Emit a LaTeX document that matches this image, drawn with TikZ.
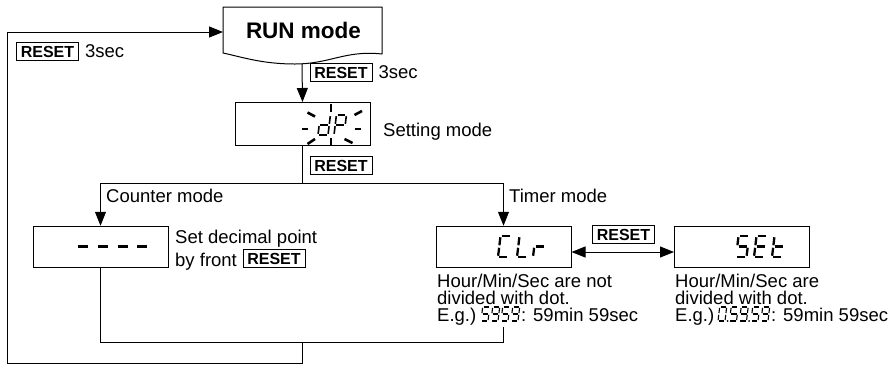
\documentclass[tikz,border=0pt]{standalone}
\usepackage{fontspec}
\setmainfont{Liberation Sans}
\usetikzlibrary{arrows.meta}
\tikzset{
  ln/.style={line width=1pt},
  arr/.style={ln, -{Triangle[length=14pt,width=11pt]}},
  darr/.style={ln, {Triangle[length=14pt,width=11pt]}-{Triangle[length=14pt,width=11pt]}},
  disp/.style={draw, ln, minimum width=135pt, minimum height=41.5pt, inner sep=0pt},
  rst/.style={draw, line width=0.8pt, inner sep=0pt, minimum width=62pt, minimum height=18.5pt,
    font=\fontsize{16}{16}\selectfont\bfseries},
  txt/.style={inner sep=0pt, font=\fontsize{18.5}{18.5}\selectfont},
  ray/.style={line width=2.6pt},
  dash7/.style={line width=3pt},
}
\pgfkeys{
  /seg/a/.code={\draw (0.12,1)--(0.88,1);},
  /seg/b/.code={\draw (1,0.94)--(1,0.56);},
  /seg/c/.code={\draw (1,0.44)--(1,0.06);},
  /seg/d/.code={\draw (0.12,0)--(0.88,0);},
  /seg/e/.code={\draw (0,0.44)--(0,0.06);},
  /seg/f/.code={\draw (0,0.94)--(0,0.56);},
  /seg/g/.code={\draw (0.12,0.5)--(0.88,0.5);},
}
% #1 x, #2 y of bottom, #3 width, #4 height, #5 line width, #6 segments
\newcommand\sevseg[6]{%
  \begin{scope}[shift={(#1,#2)}, x={(#3pt,0pt)}, y={(0.12*#4pt,#4pt)}, line width=#5pt]
    \foreach \s in {#6}{\edef\segtmp{\noexpand\pgfkeys{/seg/\s}}\segtmp}
  \end{scope}}
\begin{document}
\begin{tikzpicture}[x=1pt,y=-1pt]
\useasboundingbox (0,0) rectangle (896,365);

% RUN mode box
\draw[ln, line join=round] (223,7) -- (382,7) -- (382,54)
  .. controls (345,50) and (330,64) .. (295,64)
  .. controls (262,64) and (242,57) .. (223,53) -- cycle;
\node[font=\fontsize{22.5}{24}\selectfont\bfseries, inner sep=0pt, anchor=base] (run) at (303.5,38) {RUN mode};
\coordinate (runb) at (302,63.6);
\coordinate (runw) at (223,32);

% left RESET 3sec
\node[rst] (r1) at (47.5,51.5) {RESET};
\node[txt, anchor=base west] (s1) at ([xshift=6pt]r1.base east) {3sec};

% RESET 3sec
\node[rst] (r2) at (341,72.5) {RESET};
\node[txt, anchor=base west] (s2) at ([xshift=6pt]r2.base east) {3sec};

% Setting box
\node[disp, minimum height=43pt] (set) at (302.5,124) {};
\node[txt, anchor=base west] (setm) at (383,136) {Setting mode};
\sevseg{318}{135}{10}{20}{1.6}{b,c,g,e,d}
\sevseg{334}{135}{10}{20}{1.6}{a,b,f,g,e}
\draw[ray] (331,103.5) -- (331,112);
\draw[ray] (331,137.5) -- (331,145.5);
\draw[ray] (307.5,112.5) -- (315,116.5);
\draw[ray] (354.5,115) -- (362,111);
\draw[ray] (302,129) -- (308,129);
\draw[ray] (354.5,129) -- (361,129);
\draw[ray] (307.5,144) -- (315,139);
\draw[ray] (344.5,139) -- (352.5,143);

\node[rst] (r3) at (341,165.5) {RESET};

% branch
\coordinate (bm) at (302.5,183);
\coordinate (bl) at (100.5,183);
\coordinate (br) at (503.5,183);

% counter
\node[disp] (cnt) at (100.5,247) {};
\node[txt, anchor=base west] (cm) at (106,202) {Counter mode};
\draw[dash7] (78,246) -- (88,246);
\draw[dash7] (98,246) -- (108,246);
\draw[dash7] (118,246) -- (127.5,246);
\draw[dash7] (137,246) -- (147,246);
\node[txt, anchor=base west] (sd1) at (175,243) {Set decimal point};
\node[txt, anchor=base west] (sd2) at (175,266) {by front};
\node[rst] (r4) at (274,258.5) {RESET};

% timer
\node[txt, anchor=base west] (tm) at (509,202) {Timer mode};
\node[disp] (clr) at (503.5,247) {};
\sevseg{498}{257}{10.5}{21}{2.3}{a,d,e,f}
\sevseg{517}{257}{10.5}{21}{2.3}{d,e,f}
\sevseg{533}{257}{10.5}{21}{2.3}{e,g}
\node[rst] (r5) at (623.5,234.5) {RESET};
\node[disp] (sett) at (742,247) {};
\sevseg{736}{257}{10.5}{21}{2.3}{a,f,g,c,d}
\sevseg{754}{257}{10.5}{21}{2.3}{a,f,g,e,d}
\sevseg{772}{257}{10.5}{21}{2.3}{f,g,e,d}

% texts under CLr
\node[txt, anchor=base west] (h1) at (437,287) {Hour/Min/Sec are not};
\node[txt, anchor=base west] (h2) at (437,304) {divided with dot.};
\node[txt, anchor=base west] (h3) at (437,321) {E.g.)};
\sevseg{481}{321}{7}{14}{1.1}{a,f,g,c,d}
\sevseg{491}{321}{7}{14}{1.1}{a,b,c,d,f,g}
\sevseg{501}{321}{7}{14}{1.1}{a,f,g,c,d}
\sevseg{511}{321}{7}{14}{1.1}{a,b,c,d,f,g}
\node[txt, anchor=base west] (h3b) at (521,321) {: 59min 59sec};

% texts under SEt
\node[txt, anchor=base west] (k1) at (675,287) {Hour/Min/Sec are};
\node[txt, anchor=base west] (k2) at (675,304) {divided with dot.};
\node[txt, anchor=base west] (k3) at (675,321) {E.g.)};
\sevseg{718}{321}{7}{14}{1.1}{a,b,c,d,e,f}
\fill (727.5,321) circle (1pt);
\sevseg{729.5}{321}{7}{14}{1.1}{a,f,g,c,d}
\sevseg{739.5}{321}{7}{14}{1.1}{a,b,c,d,f,g}
\fill (749,321) circle (1pt);
\sevseg{751}{321}{7}{14}{1.1}{a,f,g,c,d}
\sevseg{761}{321}{7}{14}{1.1}{a,b,c,d,f,g}
\node[txt, anchor=base west] (k3b) at (771,321) {: 59min 59sec};

% bottom coordinates
\coordinate (t1) at (503.5,327);
\coordinate (m1) at (100.5,342);
\coordinate (m2) at (503.5,342);
\coordinate (m3) at (302,342);
\coordinate (lp1) at (302,363);
\coordinate (lp2) at (7,363);
\coordinate (lp3) at (7,32);

% connectors
\draw[arr] (runb) -- (set.north);
\draw[ln] (set.south) -- (bm);
\draw[ln] (bl) -- (br);
\draw[arr] (bl) -- (cnt.north);
\draw[arr] (br) -- (clr.north);
\draw[darr] ([yshift=-5pt]clr.east) -- ([yshift=-5pt]sett.west);
\draw[ln] (cnt.south) -- (m1) -- (m2) -- (t1);
\draw[ln] (m3) -- (lp1) -- (lp2) -- (lp3);
\draw[arr] (lp3) -- (runw);
\end{tikzpicture}
\end{document}
